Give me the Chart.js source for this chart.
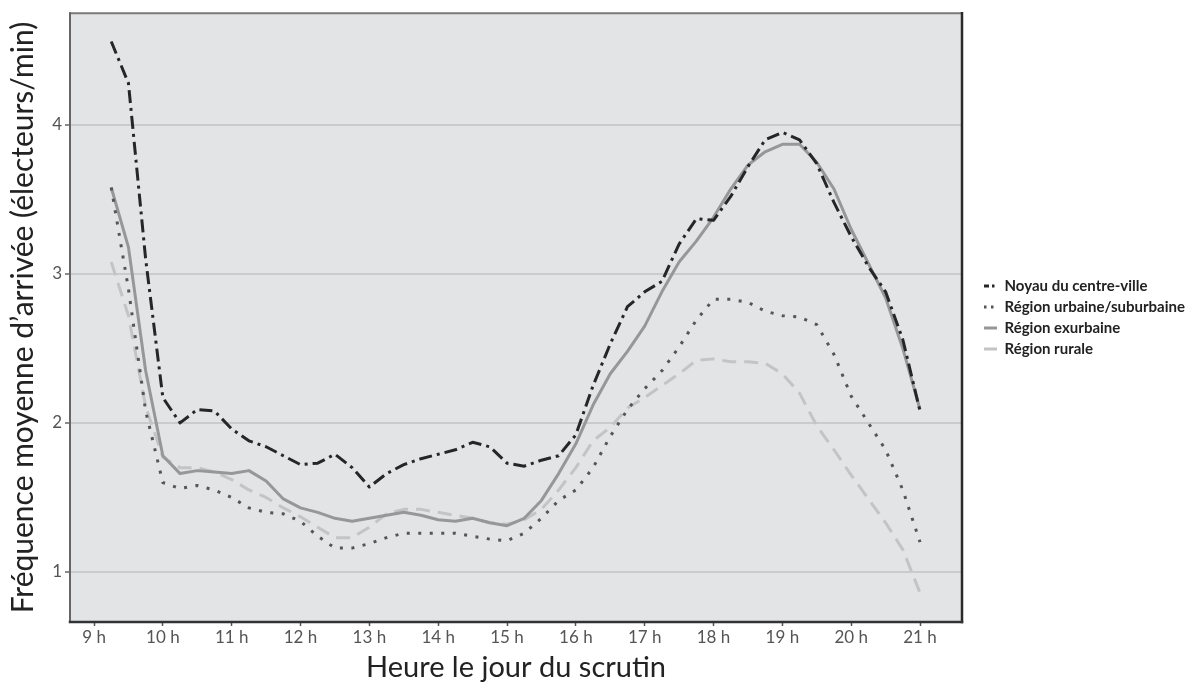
<!DOCTYPE html>
<html><head><meta charset="utf-8">
<script src="https://cdn.jsdelivr.net/npm/chart.js@4"></script>
<style>html,body{margin:0;padding:0;background:#fff}#wrap{width:1191px;height:687px}</style>
</head><body><div id="wrap"><canvas id="c" width="1191" height="687"></canvas></div>
<script>
const hours = [9.25,9.5,9.75,10,10.25,10.5,10.75,11,11.25,11.5,11.75,12,12.25,12.5,12.75,13,13.25,13.5,13.75,14,14.25,14.5,14.75,15,15.25,15.5,15.75,16,16.25,16.5,16.75,17,17.25,17.5,17.75,18,18.25,18.5,18.75,19,19.25,19.5,19.75,20,20.25,20.5,20.75,21];
const noyau = [4.56,4.28,3.10,2.17,2.00,2.09,2.08,1.96,1.88,1.84,1.78,1.72,1.73,1.79,1.70,1.57,1.66,1.72,1.76,1.79,1.82,1.87,1.84,1.73,1.71,1.75,1.78,1.92,2.25,2.53,2.78,2.88,2.95,3.20,3.37,3.36,3.52,3.72,3.90,3.95,3.90,3.74,3.48,3.25,3.05,2.88,2.56,2.08];
const urbaine = [3.58,2.90,2.08,1.60,1.56,1.58,1.55,1.50,1.43,1.40,1.39,1.34,1.24,1.16,1.16,1.19,1.23,1.26,1.26,1.26,1.26,1.24,1.22,1.21,1.26,1.36,1.48,1.55,1.70,1.91,2.09,2.23,2.35,2.51,2.69,2.83,2.83,2.81,2.75,2.72,2.71,2.66,2.46,2.18,2.00,1.82,1.55,1.20];
const exurbaine = [3.58,3.18,2.35,1.78,1.66,1.68,1.67,1.66,1.68,1.61,1.49,1.43,1.40,1.36,1.34,1.36,1.38,1.40,1.38,1.35,1.34,1.36,1.33,1.31,1.36,1.48,1.66,1.86,2.12,2.33,2.48,2.65,2.88,3.08,3.22,3.38,3.57,3.73,3.82,3.87,3.87,3.75,3.57,3.30,3.07,2.84,2.50,2.09];
const rurale = [3.08,2.72,2.11,1.77,1.70,1.70,1.67,1.62,1.55,1.50,1.43,1.37,1.30,1.23,1.23,1.30,1.39,1.42,1.42,1.40,1.38,1.36,1.33,1.32,1.35,1.42,1.55,1.70,1.88,1.97,2.10,2.17,2.25,2.33,2.42,2.43,2.41,2.41,2.40,2.33,2.20,1.98,1.82,1.65,1.49,1.33,1.15,0.86];
const seriesNames = ['Noyau du centre-ville','Région urbaine/suburbaine','Région exurbaine','Région rurale'];
const xTickHours = [9,10,11,12,13,14,15,16,17,18,19,20,21];
const yTickValues = [1,2,3,4];
const xTitle = 'Heure le jour du scrutin';
const yTitle = 'Fréquence moyenne d’arrivée (électeurs/min)';

function pts(vals){ return vals.map((v,i)=>({x:hours[i], y:v})); }

const legendDashes = [[5,3,2.5,3],[2.5,4.5],[],[]];

const framePlugin = {
  id:'frame',
  beforeDraw(chart){
    const {ctx, chartArea:a} = chart;
    ctx.save();
    ctx.fillStyle = '#e3e4e6';
    ctx.fillRect(a.left, a.top, a.right-a.left, a.bottom-a.top);
    ctx.restore();
  },
  afterDatasetsDraw(chart){
    const {ctx, chartArea:a} = chart;
    ctx.save();
    ctx.lineCap = 'square';
    ctx.strokeStyle = '#7a7a7a'; ctx.lineWidth = 2;
    ctx.beginPath(); ctx.moveTo(a.left, a.top); ctx.lineTo(a.right, a.top); ctx.stroke();
    ctx.strokeStyle = '#666'; ctx.lineWidth = 2;
    ctx.beginPath(); ctx.moveTo(a.left, a.top); ctx.lineTo(a.left, a.bottom); ctx.stroke();
    ctx.strokeStyle = '#2a2a2a'; ctx.lineWidth = 2.5;
    ctx.beginPath(); ctx.moveTo(a.right, a.top); ctx.lineTo(a.right, a.bottom); ctx.stroke();
    ctx.strokeStyle = '#333'; ctx.lineWidth = 2.5;
    ctx.beginPath(); ctx.moveTo(a.left, a.bottom); ctx.lineTo(a.right, a.bottom); ctx.stroke();
    ctx.restore();
  }
};

const legendPlace = {
  id:'legendPlace',
  beforeLayout(chart){
    const lg = chart.legend;
    if (lg && !lg._patched){
      const orig = lg.fit;
      lg.fit = function(){ orig.call(this); this.width = 229; };
      lg._patched = true;
    }
  },
  afterLayout(chart){
    const lg = chart.legend;
    if (lg){
      const w = lg.width;
      lg.left = 978; lg.right = 978 + w;
      lg.top = chart.chartArea.top; lg.bottom = chart.chartArea.bottom;
    }
  }
};

const ds = (label, data, color, dash, width) => ({
  label, data: pts(data), borderColor: color, backgroundColor: color,
  borderWidth: width, borderDash: dash, pointRadius: 0, tension: 0, fill:false,
  borderCapStyle:'butt', borderJoinStyle:'round'
});

new Chart(document.getElementById('c'), {
  type:'line',
  data:{ datasets:[
    ds(seriesNames[0], noyau, '#262626', [13,5,3,5], 3),
    ds(seriesNames[1], urbaine, '#555555', [3,8.5], 3),
    ds(seriesNames[2], exurbaine, '#979797', [], 3),
    ds(seriesNames[3], rurale, '#c4c4c4', [14,8], 3)
  ]},
  options:{
    responsive:false, animation:false, devicePixelRatio:1,
    layout:{ padding:{ top:13, right:0, bottom:0, left:0 } },
    plugins:{
      tooltip:{enabled:false},
      legend:{ position:'right', align:'center',
        labels:{ usePointStyle:true, pointStyle:'line', pointStyleWidth:13, boxHeight:12, padding:6,
          font:{ family:'Lato', size:15, weight:'bold' }, color:'#222',
          generateLabels(chart){
            const items = Chart.defaults.plugins.legend.labels.generateLabels(chart);
            items.forEach((it,i)=>{ it.lineDash = legendDashes[i]; it.pointStyle = 'line'; });
            return items;
          } } }
    },
    scales:{
      x:{ type:'linear', min:8.651, max:21.61,
        afterBuildTicks: s => { s.ticks = xTickHours.map(v=>({value:v})); },
        afterFit: s => { s.height = 65; },
        ticks:{ callback: v => v + ' h', font:{family:'Lato', size:17}, color:'#555', padding:1, maxRotation:0, autoSkip:false },
        grid:{ drawOnChartArea:false, drawTicks:true, tickLength:4, tickColor:'#555', tickWidth:1.5 },
        border:{ display:false },
        title:{ display:true, text:xTitle, font:{family:'Lato', size:29}, color:'#222', padding:{top:0, bottom:2} }
      },
      y:{ type:'linear', min:0.664, max:4.75,
        afterBuildTicks: s => { s.ticks = yTickValues.map(v=>({value:v})); },
        afterFit: s => { s.width = 70; },
        ticks:{ font:{family:'Lato', size:17}, color:'#555', padding:3 },
        grid:{ color:'#cbcbcb', lineWidth:2, drawTicks:true, tickLength:5, tickColor:'#666', tickWidth:1.5 },
        border:{ display:false },
        title:{ display:true, text:yTitle, font:{family:'Lato', size:30}, color:'#222', padding:{top:5, bottom:0} }
      }
    }
  },
  plugins:[framePlugin, legendPlace]
});
</script>
</body></html>
